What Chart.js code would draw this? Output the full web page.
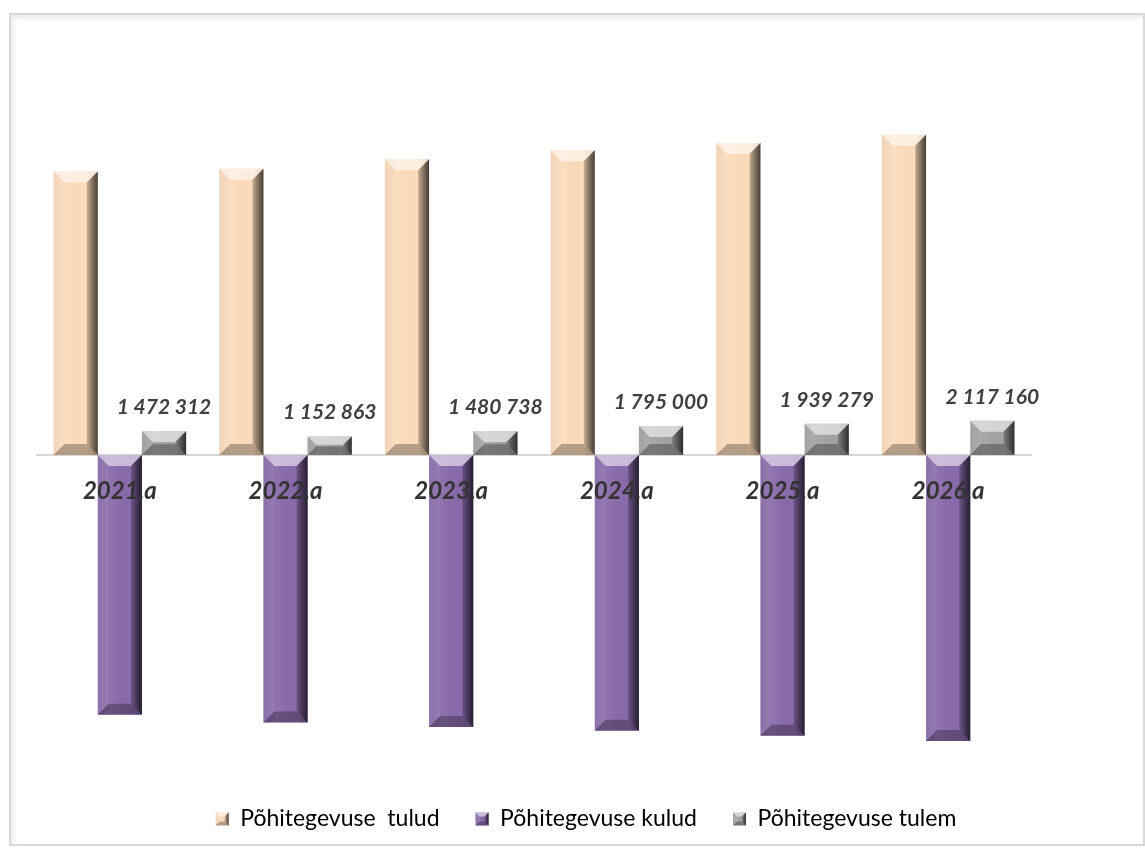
<!DOCTYPE html>
<html>
<head>
<meta charset="utf-8">
<script src="https://cdn.jsdelivr.net/npm/chart.js@4.4.1/dist/chart.umd.min.js"></script>
<style>
  html, body { margin: 0; padding: 0; background: #ffffff; }
  #frame { position: absolute; left: 9px; top: 13px; width: 1132px; height: 829px;
           border: 2px solid #d9d9d9; box-shadow: inset 3px 3px 4px rgba(0,0,0,0.08); }
  #wrap { position: absolute; left: 0; top: 0; width: 1145px; height: 849px; }
</style>
</head>
<body>
<div id="frame"></div>
<div id="wrap"><canvas id="c" width="1145" height="849"></canvas></div>
<script>
// ---- data ----
const categories = ['2021.a', '2022.a', '2023.a', '2024.a', '2025.a', '2026.a'];
const seriesNames = ['Põhitegevuse  tulud', 'Põhitegevuse kulud', 'Põhitegevuse tulem'];
const tulud = [17580000, 17750000, 18350000, 18900000, 19360000, 19860000];
const kulud = [-16110000, -16600000, -16870000, -17100000, -17420000, -17740000];
const tulem = [1472312, 1152863, 1480738, 1795000, 1939279, 2117160];
const seriesColors = ['#fddcbb', '#8a6aab', '#a3a3a3'];

function fmt(v) { return String(Math.round(v)).replace(/\B(?=(\d{3})+(?!\d))/g, ' '); }

function bevelRect(ctx, l, t, w, h, bvMax) {
  const r = l + w, b = t + h;
  const bv = Math.min(bvMax, h / 2.2, w / 3);
  ctx.save();
  const g = ctx.createLinearGradient(l, 0, r, 0);
  g.addColorStop(0, 'rgba(0,0,0,0.05)');
  g.addColorStop(0.3, 'rgba(255,255,255,0.06)');
  g.addColorStop(0.75, 'rgba(0,0,0,0.0)');
  g.addColorStop(1, 'rgba(0,0,0,0.18)');
  ctx.fillStyle = g;
  ctx.fillRect(l, t, w, h);
  ctx.beginPath();
  ctx.moveTo(l, t); ctx.lineTo(r, t); ctx.lineTo(r - bv, t + bv); ctx.lineTo(l + bv, t + bv); ctx.closePath();
  ctx.fillStyle = 'rgba(255,255,255,0.55)'; ctx.fill();
  ctx.beginPath();
  ctx.moveTo(l, t); ctx.lineTo(l + bv, t + bv); ctx.lineTo(l + bv, b - bv); ctx.lineTo(l, b); ctx.closePath();
  ctx.fillStyle = 'rgba(255,255,255,0.08)'; ctx.fill();
  const gr = ctx.createLinearGradient(r - bv, 0, r, 0);
  gr.addColorStop(0, 'rgba(0,0,0,0.2)');
  gr.addColorStop(1, 'rgba(0,0,0,0.65)');
  ctx.beginPath();
  ctx.moveTo(r, t); ctx.lineTo(r, b); ctx.lineTo(r - bv, b - bv); ctx.lineTo(r - bv, t + bv); ctx.closePath();
  ctx.fillStyle = gr; ctx.fill();
  ctx.beginPath();
  ctx.moveTo(l, b); ctx.lineTo(r, b); ctx.lineTo(r - bv, b - bv); ctx.lineTo(l + bv, b - bv); ctx.closePath();
  ctx.fillStyle = 'rgba(0,0,0,0.28)'; ctx.fill();
  ctx.restore();
}

// bevel shading plugin: reads element geometry from the library
const bevelPlugin = {
  id: 'bevel',
  afterDatasetsDraw(chart) {
    const ctx = chart.ctx;
    chart.data.datasets.forEach((ds, di) => {
      const meta = chart.getDatasetMeta(di);
      meta.data.forEach(el => {
        const p = el.getProps(['x', 'y', 'base', 'width'], true);
        const t = Math.min(p.y, p.base), b = Math.max(p.y, p.base);
        bevelRect(ctx, p.x - p.width / 2, t, p.width, b - t, 11);
      });
    });
  },
  afterDraw(chart) {
    const lg = chart.legend;
    if (!lg || !lg.legendHitBoxes) return;
    const lo = lg.options.labels;
    const fs = lo.font.size;
    lg.legendHitBoxes.forEach(hb => {
      const y = hb.top + Math.max((fs - lo.boxHeight) / 2, 0);
      bevelRect(chart.ctx, hb.left, y, lo.boxWidth, lo.boxHeight, 4);
    });
  }
};

// value labels for the tulem series
const labelPlugin = {
  id: 'valueLabels',
  afterDatasetsDraw(chart) {
    const ctx = chart.ctx;
    const meta = chart.getDatasetMeta(2);
    ctx.save();
    ctx.font = 'italic bold 21px Lato, "Open Sans", sans-serif';
    ctx.fillStyle = '#404040';
    ctx.textAlign = 'center';
    ctx.textBaseline = 'alphabetic';
    meta.data.forEach((el, i) => {
      ctx.fillText(fmt(chart.data.datasets[2].data[i]), el.x, el.y - 17);
    });
    ctx.restore();
  }
};

new Chart(document.getElementById('c'), {
  type: 'bar',
  data: {
    labels: categories,
    datasets: [
      { label: seriesNames[0], data: tulud, backgroundColor: seriesColors[0] },
      { label: seriesNames[1], data: kulud, backgroundColor: seriesColors[1] },
      { label: seriesNames[2], data: tulem, backgroundColor: seriesColors[2] }
    ]
  },
  options: {
    responsive: false,
    animation: false,
    devicePixelRatio: 1,
    layout: { padding: { left: 37, right: 10, top: 52, bottom: 8.5 } },
    datasets: { bar: { categoryPercentage: 0.8, barPercentage: 1.0, borderWidth: 0 } },
    scales: {
      x: {
        position: { y: 0 },
        grid: { display: false, drawTicks: false },
        border: { display: true, color: '#d6d6d6', width: 2 },
        ticks: { z: 1, padding: 22, color: '#333333', font: { family: 'Lato, "Open Sans", sans-serif', size: 24, style: 'italic', weight: 'bold' } }
      },
      y: {
        position: 'right',
        display: true,
        min: -19634000,
        max: 25000000,
        grid: { display: false },
        border: { display: false },
        ticks: { display: false },
        afterFit(scale) { scale.width = 104; }
      }
    },
    plugins: {
      legend: {
        position: 'bottom',
        labels: {
          boxWidth: 13, boxHeight: 13, padding: 36,
          color: '#000000',
          font: { family: 'Lato, "Open Sans", sans-serif', size: 23 }
        }
      },
      tooltip: { enabled: false }
    }
  },
  plugins: [bevelPlugin, labelPlugin]
});
</script>
</body>
</html>
